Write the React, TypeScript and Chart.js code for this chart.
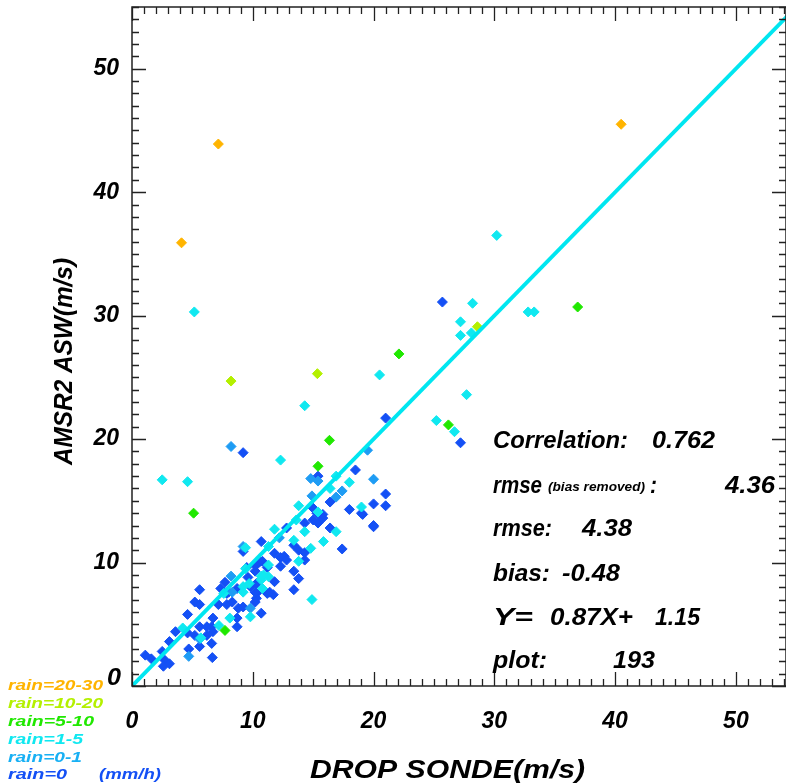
import React, { useEffect, useRef } from 'react';
import { Chart, registerables } from 'chart.js';
Chart.register(...registerables);

// rain = 0 (mm/h)
const rain0: [number, number][] = [
  [1.1, 2.5], [1.6, 2.2], [2.5, 2.8], [2.7, 2.1], [2.6, 1.6], [3.1, 1.8], [3.1, 3.6], [3.6, 4.4],
  [4.6, 5.8], [4.6, 4.3], [4.7, 3.0], [5.2, 4.1], [5.2, 6.8], [5.6, 6.6], [5.6, 4.8], [5.6, 3.2], [6.2, 4.1],
  [5.6, 7.8], [7.35, 7.9], [8.7, 7.9], [9.8, 8.05], [10.3, 8.3], [10.3, 7.5], [10.3, 7.1], [10.8, 10.1],
  [10.2, 9.3], [11.2, 9.6], [7.15, 6.6], [7.85, 6.6], [8.3, 6.8], [8.8, 6.3], [8.7, 5.5], [9.2, 6.4],
  [10.2, 6.8], [10.7, 5.9], [6.7, 5.5], [6.6, 4.8], [6.7, 4.4], [6.2, 4.8], [6.6, 3.45], [6.65, 2.3],
  [8.7, 4.8], [10.4, 9.9], [7.7, 8.4], [8.0, 7.6], [7.85, 7.5], [11.2, 7.5],
  [14.3, 13.2], [15.0, 13.45], [15.4, 13.2], [15.8, 13.6], [16.4, 12.8], [12.8, 12.8], [13.4, 11.4],
  [17.4, 11.1], [13.8, 11.0], [14.3, 10.8], [14.3, 10.2], [12.6, 10.5], [12.3, 10.4], [12.8, 10.2],
  [11.8, 10.75], [12.3, 9.7], [10.7, 11.7], [10.6, 10.1], [10.2, 9.8], [9.5, 9.6], [9.6, 8.8],
  [11.8, 8.45], [13.4, 9.3], [13.8, 8.7], [13.4, 7.8], [11.7, 7.4], [11.4, 7.6], [10.2, 7.6],
  [19.1, 13.9], [20.0, 12.9], [21.0, 15.55], [21.0, 14.6], [20.0, 14.75], [19.0, 14.0], [18.0, 14.3],
  [20.0, 13.0], [18.5, 17.5], [15.4, 17.0], [16.4, 14.9], [14.9, 14.5], [15.3, 14.0], [15.8, 13.9],
  [21.0, 21.7], [9.2, 18.9], [9.2, 10.9], [25.7, 31.1], [27.2, 19.7],
];
// rain = 0-1
const rain01: [number, number][] = [
  [4.7, 2.4], [5.6, 3.8], [8.2, 8.9], [8.3, 7.6], [9.8, 6.3], [8.2, 19.4], [19.5, 19.1], [20.0, 16.75],
  [17.4, 15.8], [16.9, 15.3], [14.8, 16.8], [15.4, 16.6], [14.9, 15.4], [9.2, 11.3], [12.2, 12.0],
];
// rain = 1-5
const rain15: [number, number][] = [
  [4.2, 4.7], [7.6, 7.5], [9.2, 8.05], [9.2, 7.6], [10.8, 7.9], [10.7, 8.9], [11.3, 8.85], [8.1, 5.5],
  [7.2, 4.9], [5.7, 3.9], [9.7, 8.3], [13.6, 13.45], [14.3, 12.5], [11.8, 12.7], [13.4, 11.8],
  [15.85, 11.7], [14.8, 11.15], [13.8, 10.1], [11.3, 11.3], [11.3, 9.8], [10.9, 9.0], [10.7, 8.6],
  [9.8, 5.6], [9.4, 11.2], [9.4, 9.5], [14.9, 7.0], [19.0, 14.5], [18.0, 16.5], [16.9, 12.5],
  [16.4, 16.0], [16.9, 17.0], [13.8, 14.6], [15.4, 14.1], [12.3, 18.3], [14.3, 22.7], [20.5, 25.2],
  [2.5, 16.7], [4.6, 16.55], [5.16, 30.3], [30.2, 36.5], [28.2, 31.0], [27.2, 29.5], [27.2, 28.4],
  [28.1, 28.6], [32.8, 30.3], [33.3, 30.3], [27.7, 23.6], [25.2, 21.5], [26.7, 20.6],
];
// rain = 5-10
const rain510: [number, number][] = [
  [22.1, 26.9], [36.9, 30.7], [26.2, 21.15], [16.35, 19.9], [15.4, 17.8], [5.1, 14.0], [7.7, 4.5],
];
// rain = 10-20
const rain1020: [number, number][] = [[8.2, 24.7], [15.35, 25.3], [28.6, 29.1]];
// rain = 20-30
const rain2030: [number, number][] = [[4.1, 35.9], [7.15, 43.9], [40.5, 45.5]];

const oneToOne: [number, number][] = [[0, 0], [55, 55]];

const xTickValues = [0, 10, 20, 30, 40, 50];
const yTickValues = [0, 10, 20, 30, 40, 50];
const X_MAX = 54.15;
const Y_MAX = 55;

const legendLabels = ['rain=20-30', 'rain=10-20', 'rain=5-10', 'rain=1-5', 'rain=0-1', 'rain=0'];
const legendColors = ['#FFB400', '#B4F000', '#20E800', '#10E8F0', '#18B0F4', '#1450F5'];
const unitLabel = '(mm/h)';

const correlation = '0.762';
const rmseBiasRemoved = '4.36';
const rmse = '4.38';
const bias = '-0.48';
const slope = '0.87';
const intercept = '1.15';
const plotCount = '193';

const xTitle = 'DROP SONDE(m/s)';
const yTitle = 'AMSR2 ASW(m/s)';

const FAMILY = '"Liberation Sans", Arial, sans-serif';
const bi = (px: number) => `italic bold ${px}px ${FAMILY}`;

function fitText(ctx: CanvasRenderingContext2D, text: string, x: number, y: number, w: number, font: string, color: string) {
  ctx.save();
  ctx.font = font;
  ctx.fillStyle = color;
  ctx.textAlign = 'left';
  ctx.textBaseline = 'alphabetic';
  const m = ctx.measureText(text).width;
  ctx.translate(x, y);
  ctx.scale(w / m, 1);
  ctx.fillText(text, 0, 0);
  ctx.restore();
}

const decorPlugin = {
  id: 'decor',
  afterDraw(chart: any) {
    const ctx: CanvasRenderingContext2D = chart.ctx;
    const { left, right, top, bottom } = chart.chartArea;
    const xs = chart.scales.x;
    const ys = chart.scales.y;
    ctx.save();
    ctx.strokeStyle = '#222';
    ctx.lineWidth = 1.5;
    ctx.strokeRect(left, top, right - left, bottom - top);
    ctx.lineWidth = 1.3;
    ctx.beginPath();
    for (let v = 0; v <= X_MAX; v += 1) {
      const px = Math.round(xs.getPixelForValue(v)) + 0.5;
      const len = v % 10 === 0 ? 14 : 7;
      ctx.moveTo(px, bottom); ctx.lineTo(px, bottom - len);
      ctx.moveTo(px, top); ctx.lineTo(px, top + len);
    }
    for (let v = 0; v <= Y_MAX; v += 1) {
      const py = Math.round(ys.getPixelForValue(v)) + 0.5;
      const len = v % 10 === 0 ? 14 : 7;
      ctx.moveTo(left, py); ctx.lineTo(left + len, py);
      ctx.moveTo(right, py); ctx.lineTo(right - len, py);
    }
    ctx.stroke();
    ctx.restore();

    // y-axis "0" label (raised as in the original)
    fitText(ctx, '0', 107, ys.getPixelForValue(0) - 1, 14, bi(23), '#000');

    // axis titles
    fitText(ctx, xTitle, 310, 778, 275, bi(26), '#000');
    ctx.save();
    ctx.translate(72, 465);
    ctx.rotate(-Math.PI / 2);
    fitText(ctx, yTitle, 0, 0, 207, bi(26), '#000');
    ctx.restore();

    // rain legend
    const lw = [95, 95, 86, 75, 74, 59];
    const ly = [684, 702, 720, 738, 756, 773];
    legendLabels.forEach((t, i) => fitText(ctx, t, 8, ly[i] + 6, lw[i], bi(15), legendColors[i]));
    fitText(ctx, unitLabel, 99, 773 + 6, 62, bi(15), legendColors[5]);

    // statistics
    const k = '#000';
    const F = bi(23);
    fitText(ctx, 'Correlation:', 493, 448, 135, F, k);
    fitText(ctx, correlation, 652, 448, 63, F, k);
    fitText(ctx, 'rmse', 493, 493, 49, F, k);
    fitText(ctx, '(bias removed)', 548, 491, 97, bi(13), k);
    fitText(ctx, ':', 650, 493, 7, F, k);
    fitText(ctx, rmseBiasRemoved, 725, 493, 50, F, k);
    fitText(ctx, 'rmse:', 493, 536, 59, F, k);
    fitText(ctx, rmse, 582, 536, 50, F, k);
    fitText(ctx, 'bias:', 493, 581, 57, F, k);
    fitText(ctx, bias, 562, 581, 58, F, k);
    fitText(ctx, 'Y=', 493, 625, 40, F, k);
    fitText(ctx, slope + 'X+', 550, 625, 83, F, k);
    fitText(ctx, intercept, 655, 625, 45, F, k);
    fitText(ctx, 'plot:', 493, 668, 54, F, k);
    fitText(ctx, plotCount, 613, 668, 42, F, k);
  },
};

const toXY = (arr: [number, number][]) => arr.map(([x, y]) => ({ x, y }));

const pointSet = (label: string, data: [number, number][], color: string) => ({
  type: 'scatter' as const,
  label,
  data: toXY(data),
  pointStyle: 'rectRot',
  pointRadius: 5,
  pointBorderWidth: 1,
  backgroundColor: color,
  borderColor: color,
  showLine: false,
});

export default function App() {
  const ref = useRef<HTMLCanvasElement>(null);
  useEffect(() => {
    document.body.style.margin = '0';
    if (!ref.current) return;
    const tickFont = { family: FAMILY, size: 23, style: 'italic' as const, weight: 'bold' as const };
    const chart = new Chart(ref.current, {
      type: 'scatter',
      data: {
        datasets: [
          {
            type: 'line',
            label: 'fit',
            data: toXY(oneToOne),
            borderColor: '#00E6F0',
            borderWidth: 4,
            pointRadius: 0,
            fill: false,
          } as any,
          pointSet('rain=20-30', rain2030, '#FFB400'),
          pointSet('rain=10-20', rain1020, '#B4F000'),
          pointSet('rain=5-10', rain510, '#20E800'),
          pointSet('rain=1-5', rain15, '#10E8F0'),
          pointSet('rain=0-1', rain01, '#1E9CF4'),
          pointSet('rain=0', rain0, '#1450F5'),
        ],
      },
      options: {
        responsive: false,
        animation: false,
        layout: { autoPadding: false, padding: { left: 0, top: 7, right: 0, bottom: 0 } },
        plugins: { legend: { display: false }, tooltip: { enabled: false } },
        scales: {
          x: {
            type: 'linear',
            min: 0,
            max: X_MAX,
            afterBuildTicks: (s: any) => { s.ticks = xTickValues.map((v) => ({ value: v })); },
            afterFit: (s: any) => { s.height = 97; s.paddingLeft = 0; s.paddingRight = 0; },
            grid: { display: false, drawTicks: false },
            border: { display: false },
            ticks: { font: tickFont, color: '#000', padding: 22, maxRotation: 0 },
          },
          y: {
            type: 'linear',
            min: 0,
            max: Y_MAX,
            afterBuildTicks: (s: any) => { s.ticks = yTickValues.map((v) => ({ value: v })); },
            afterFit: (s: any) => { s.width = 132; s.paddingTop = 0; s.paddingBottom = 0; },
            grid: { display: false, drawTicks: false },
            border: { display: false },
            ticks: {
              font: tickFont,
              color: '#000',
              padding: 13,
              callback: (v: any) => (Number(v) === 0 ? '' : String(v)),
            },
          },
        },
      },
      plugins: [decorPlugin],
    });
    return () => chart.destroy();
  }, []);
  return (
    <div style={{ width: 786, height: 783, background: '#fff' }}>
      <canvas ref={ref} width={786} height={783} style={{ display: 'block' }} />
    </div>
  );
}
